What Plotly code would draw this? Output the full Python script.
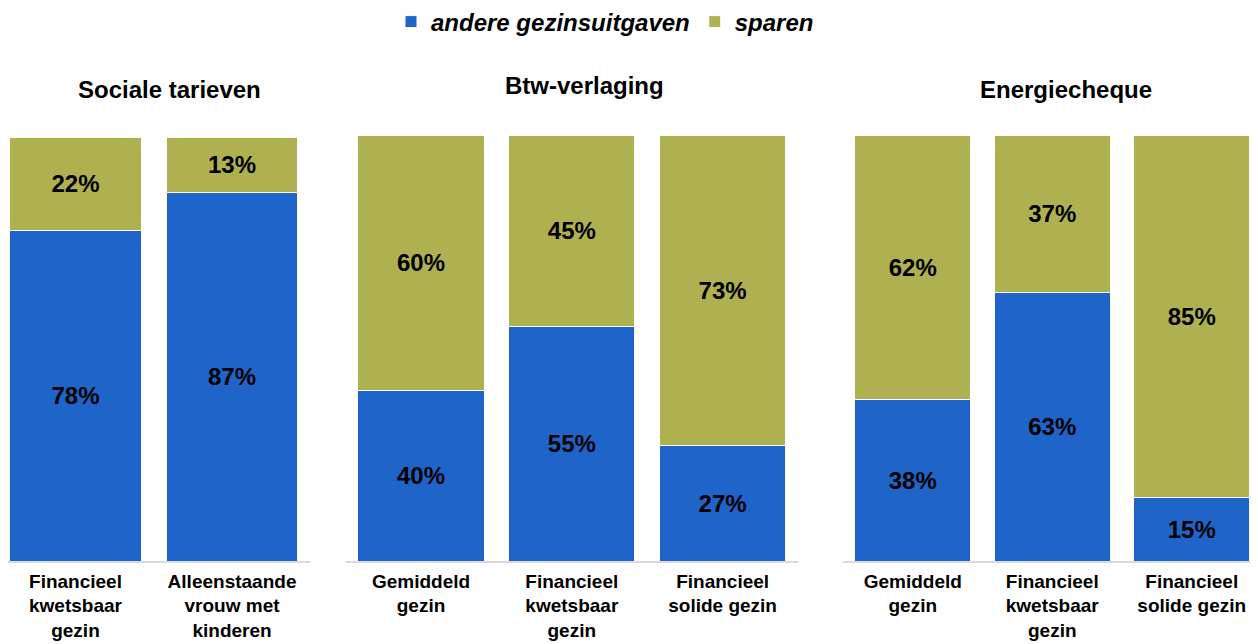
import plotly.graph_objects as go

# categories per panel
cat_sociaal = ["Financieel<br>kwetsbaar<br>gezin", "Alleenstaande<br>vrouw met<br>kinderen"]
cat_btw = ["Gemiddeld<br>gezin", "Financieel<br>kwetsbaar<br>gezin", "Financieel<br>solide gezin"]
cat_energie = ["Gemiddeld<br>gezin", "Financieel<br>kwetsbaar<br>gezin", "Financieel<br>solide gezin"]

# shares (%)
uitgaven_sociaal = [78, 87]
sparen_sociaal = [22, 13]
uitgaven_btw = [40, 55, 27]
sparen_btw = [60, 45, 73]
uitgaven_energie = [38, 63, 15]
sparen_energie = [62, 37, 85]

titles = ["Sociale tarieven", "Btw-verlaging", "Energiecheque"]

BLUE = "#1F64C8"
OLIVE = "#AFB050"
FONT = "Liberation Sans, Arial, sans-serif"

# page has an 8px body margin, so the figure fills the rest of the window
OFF = 8
W, H = 1258 - OFF, 644 - OFF

panels = [
    (cat_sociaal, uitgaven_sociaal, sparen_sociaal, "x", "y"),
    (cat_btw, uitgaven_btw, sparen_btw, "x2", "y2"),
    (cat_energie, uitgaven_energie, sparen_energie, "x3", "y3"),
]
widths = [0.837, 0.836, 0.83]

fig = go.Figure()
for i, (cats, blue, olive, xa, ya) in enumerate(panels):
    ids = [f"{i}_{k}" for k in range(len(cats))]
    for name, vals, col in [("andere gezinsuitgaven", blue, BLUE), ("sparen", olive, OLIVE)]:
        fig.add_trace(go.Bar(
            x=ids, y=vals, name=name, xaxis=xa, yaxis=ya,
            marker=dict(color=col, line=dict(color="white", width=1)),
            width=widths[i],
            text=[f"{v}%" for v in vals], textposition="inside",
            insidetextanchor="middle", textangle=0, constraintext="none",
            textfont=dict(size=24, color="black", family=FONT, weight="bold"),
            showlegend=(i == 0), legendgroup=name,
        ))


def px_x(p):
    return (p - OFF) / W


def px_y(p):
    return (644 - p) / H


tickfont = dict(size=19, color="black", family=FONT, weight="bold")
common_x = dict(type="category", tickfont=tickfont, showline=True, linecolor="#d9d9d9",
                linewidth=1.5, ticks="", ticklabelstandoff=2, automargin=False)
common_y = dict(range=[0, 100], showgrid=False, showticklabels=False, zeroline=False)

fig.update_layout(
    width=W, height=H,
    barmode="stack",
    plot_bgcolor="white", paper_bgcolor="white",
    margin=dict(l=0, r=0, t=0, b=0, autoexpand=False),
    font=dict(family=FONT, color="black"),
    legend=dict(
        orientation="h", x=px_x(605), xanchor="center", y=px_y(22), yanchor="middle",
        font=dict(size=24, family=FONT, color="black", weight="bold", style="italic"),
        itemwidth=30, tracegroupgap=0,
    ),
    xaxis=dict(domain=[0, px_x(310)], range=[-0.431, 1.498],
               tickvals=[f"0_{k}" for k in range(2)], ticktext=cat_sociaal, **common_x),
    xaxis2=dict(domain=[px_x(345.6), px_x(798)], range=[-0.5, 2.5],
                tickvals=[f"1_{k}" for k in range(3)], ticktext=cat_btw, **common_x),
    xaxis3=dict(domain=[px_x(843), 1], range=[-0.5, 2.475],
                tickvals=[f"2_{k}" for k in range(3)], ticktext=cat_energie, **common_x),
    yaxis=dict(domain=[px_y(561), px_y(137)], anchor="x", **common_y),
    yaxis2=dict(domain=[px_y(561), px_y(135)], anchor="x2", **common_y),
    yaxis3=dict(domain=[px_y(561), px_y(135)], anchor="x3", **common_y),
)

title_pos = [(169, 89), (584, 86), (1066, 89)]
for t, (tx, ty) in zip(titles, title_pos):
    fig.add_annotation(text=f"<b>{t}</b>", x=px_x(tx), y=px_y(ty), xref="paper", yref="paper",
                       xanchor="center", yanchor="middle", showarrow=False,
                       font=dict(size=24, color="black", family=FONT))

fig.write_html("out.html")
